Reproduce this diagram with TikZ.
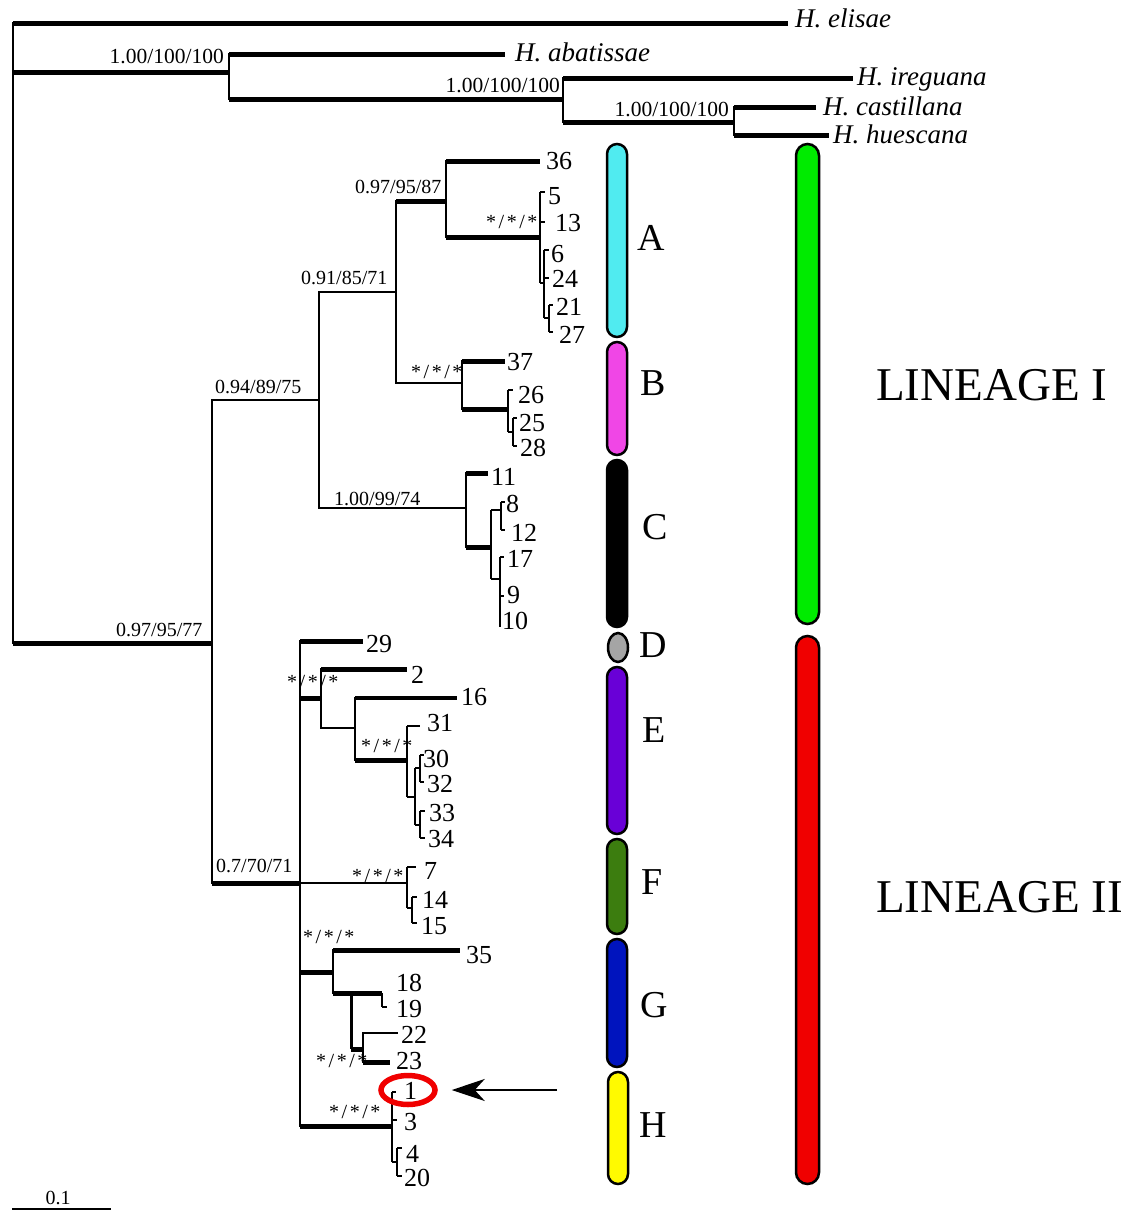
\documentclass[tikz,border=0pt]{standalone}
\usepackage{fontspec}
\setmainfont{Liberation Serif}
\usetikzlibrary{arrows.meta,shapes.geometric}
\newcommand\myfs[1]{\fontsize{#1}{#1}\selectfont}
\newcommand\sss{*\kern2.5pt/\kern2.5pt*\kern2.5pt/\kern2.5pt*}
\definecolor{cA}{RGB}{80,235,240}
\definecolor{cB}{RGB}{240,70,230}
\definecolor{cC}{RGB}{0,0,0}
\definecolor{cD}{RGB}{165,165,165}
\definecolor{cE}{RGB}{105,0,215}
\definecolor{cF}{RGB}{60,125,15}
\definecolor{cG}{RGB}{0,20,190}
\definecolor{cH}{RGB}{255,250,0}
\definecolor{cI}{RGB}{0,235,0}
\definecolor{cII}{RGB}{240,0,0}
\begin{document}
\begin{tikzpicture}[x=1pt,y=-1pt,
  vl/.style={line width=2.2pt, line cap=rect},
  tb/.style={line width=5pt},
  tn/.style={line width=2.2pt},
  tk/.style={line width=1.7pt},
  num/.style={font=\myfs{26}, anchor=west, inner sep=0pt},
  sup/.style={font=\myfs{20}, anchor=base west, inner sep=0pt},
  supb/.style={font=\myfs{21.5}, anchor=base east, inner sep=0pt},
  taxon/.style={font=\myfs{27}\itshape, anchor=base west, inner sep=0pt},
  clade/.style={draw=black, line width=2.5pt, rounded corners=10pt, minimum width=20pt, inner sep=0pt},
  lineagebar/.style={draw=black, line width=2.5pt, rounded corners=11.5pt, minimum width=23pt, inner sep=0pt},
  lett/.style={font=\myfs{38}, inner sep=0pt},
  lin/.style={font=\myfs{47}, anchor=west, inner sep=0pt}]
\useasboundingbox (0,0) rectangle (1134,1211);

% ---------- coordinates: outgroup ----------
\coordinate (r) at (13,643);
\coordinate (el) at (788,23);
\coordinate (n1) at (229,72);
\coordinate (ab) at (505,54);
\coordinate (n2) at (563,99);
\coordinate (ir) at (853,78);
\coordinate (n3) at (734,122);
\coordinate (ca) at (816,107);
\coordinate (hu) at (829,135);

% ---------- coordinates: lineage I ----------
\coordinate (nI0) at (212,643);
\coordinate (nL1) at (319,400);
\coordinate (nA1) at (396,292);
\coordinate (nA2) at (446,201);
\coordinate (t36) at (540,161);
\coordinate (nA3) at (540,237);
\coordinate (t5) at (545,192);
\coordinate (t13) at (545,222);
\coordinate (nA4) at (544,283);
\coordinate (t6) at (549,250);
\coordinate (t24) at (549,278);
\coordinate (nA5) at (549,318);
\coordinate (t21) at (553,305);
\coordinate (t27) at (553,332);
\coordinate (nB1) at (462,383);
\coordinate (t37) at (505,361);
\coordinate (nB2) at (508,409);
\coordinate (t26) at (513,390);
\coordinate (nB3) at (513,432);
\coordinate (t25) at (517,418);
\coordinate (t28) at (517,446);
\coordinate (nC1) at (466,508);
\coordinate (t11) at (488,473);
\coordinate (nC2) at (491,547);
\coordinate (nC3) at (501,510);
\coordinate (t8) at (505,502);
\coordinate (t12) at (505,530);
\coordinate (nC4) at (500,579);
\coordinate (t17) at (504,557);
\coordinate (t9) at (504,596);
\coordinate (t10) at (500,627);

% ---------- coordinates: lineage II ----------
\coordinate (nII) at (300,883);
\coordinate (t29) at (363,641);
\coordinate (nE1) at (321,698);
\coordinate (t2) at (407,669);
\coordinate (nE2) at (355,728);
\coordinate (t16) at (457,698);
\coordinate (nE3) at (407,760);
\coordinate (t31) at (420,726);
\coordinate (nE4) at (415,797);
\coordinate (nE5) at (420,768);
\coordinate (t30) at (424,755);
\coordinate (t32) at (424,782);
\coordinate (nE6) at (420,825);
\coordinate (t33) at (425,811);
\coordinate (t34) at (425,838);
\coordinate (nF1) at (407,883);
\coordinate (t7) at (416,867);
\coordinate (nF2) at (412,908);
\coordinate (t14) at (417,897);
\coordinate (t15) at (417,923);
\coordinate (nG1) at (333,972);
\coordinate (t35) at (460,950);
\coordinate (nG2) at (351,993);
\coordinate (nG3) at (382,993);
\coordinate (t19) at (387,1007);
\coordinate (nG4) at (363,1049);
\coordinate (t22) at (398,1033);
\coordinate (t23) at (390,1062);
\coordinate (nH1) at (392,1126);
\coordinate (t1) at (396,1092);
\coordinate (t3) at (397,1120);
\coordinate (nH2) at (397,1162);
\coordinate (t4) at (402,1148);
\coordinate (t20) at (402,1176);

% ---------- outgroup branches ----------
\draw[vl] (r |- el) -- (r);
\draw[tb] (r |- el) -- (el);
\draw[tb] (r |- n1) -- (n1);
\draw[vl] (n1 |- ab) -- (n1 |- n2);
\draw[tb] (n1 |- ab) -- (ab);
\draw[tb] (n1 |- n2) -- (n2);
\draw[vl] (n2 |- ir) -- (n2 |- n3);
\draw[tb] (n2 |- ir) -- (ir);
\draw[tb] (n2 |- n3) -- (n3);
\draw[vl] (n3 |- ca) -- (n3 |- hu);
\draw[tb] (n3 |- ca) -- (ca);
\draw[tb] (n3 |- hu) -- (hu);

% ---------- ingroup ----------
\draw[tb] (r) -- (nI0);
\draw[vl] (nI0 |- nL1) -- (nI0 |- nII);
\draw[tn] (nI0 |- nL1) -- (nL1);
\draw[tb] (nI0 |- nII) -- (nII);
\draw[vl] (nL1 |- nA1) -- (nL1 |- nC1);
\draw[tn] (nL1 |- nA1) -- (nA1);
\draw[tn] (nL1 |- nC1) -- (nC1);
\draw[vl] (nA1 |- nA2) -- (nA1 |- nB1);
\draw[tb] (nA1 |- nA2) -- (nA2);
\draw[tn] (nA1 |- nB1) -- (nB1);
\draw[vl] (nA2 |- t36) -- (nA2 |- nA3);
\draw[tb] (nA2 |- t36) -- (t36);
\draw[tb] (nA2 |- nA3) -- (nA3);
\draw[tk] (nA3 |- t5) -- (nA3 |- nA4);
\draw[tk] (nA3 |- t5) -- (t5);
\draw[tk] (nA3 |- t13) -- (t13);
\draw[tk] (nA3 |- nA4) -- (nA4);
\draw[tk] (nA4 |- t6) -- (nA4 |- nA5);
\draw[tk] (nA4 |- t6) -- (t6);
\draw[tk] (nA4 |- t24) -- (t24);
\draw[tk] (nA4 |- nA5) -- (nA5);
\draw[tk] (nA5 |- t21) -- (nA5 |- t27);
\draw[tk] (nA5 |- t21) -- (t21);
\draw[tk] (nA5 |- t27) -- (t27);

\draw[vl] (nB1 |- t37) -- (nB1 |- nB2);
\draw[tb] (nB1 |- t37) -- (t37);
\draw[tb] (nB1 |- nB2) -- (nB2);
\draw[tk] (nB2 |- t26) -- (nB2 |- nB3);
\draw[tk] (nB2 |- t26) -- (t26);
\draw[tk] (nB2 |- nB3) -- (nB3);
\draw[tk] (nB3 |- t25) -- (nB3 |- t28);
\draw[tk] (nB3 |- t25) -- (t25);
\draw[tk] (nB3 |- t28) -- (t28);

\draw[vl] (nC1 |- t11) -- (nC1 |- nC2);
\draw[tb] (nC1 |- t11) -- (t11);
\draw[tb] (nC1 |- nC2) -- (nC2);
\draw[tk] (nC2 |- nC3) -- (nC2 |- nC4);
\draw[tk] (nC2 |- nC3) -- (nC3);
\draw[tk] (nC2 |- nC4) -- (nC4);
\draw[tk] (nC3 |- t8) -- (nC3 |- t12);
\draw[tk] (nC3 |- t8) -- (t8);
\draw[tk] (nC3 |- t12) -- (t12);
\draw[tk] (nC4 |- t17) -- (t10);
\draw[tk] (nC4 |- t17) -- (t17);
\draw[tk] (nC4 |- t9) -- (t9);

\draw[vl] (nII |- t29) -- (nII |- nH1);
\draw[tb] (nII |- t29) -- (t29);
\draw[tb] (nII |- nE1) -- (nE1);
\draw[tn] (nII) -- (nF1);
\draw[tb] (nII |- nG1) -- (nG1);
\draw[tb] (nII |- nH1) -- (nH1);

\draw[vl] (nE1 |- t2) -- (nE1 |- nE2);
\draw[tb] (nE1 |- t2) -- (t2);
\draw[tn] (nE1 |- nE2) -- (nE2);
\draw[vl] (nE2 |- t16) -- (nE2 |- nE3);
\draw[line width=3.5pt] (nE2 |- t16) -- (t16);
\draw[tb] (nE2 |- nE3) -- (nE3);
\draw[tk] (nE3 |- t31) -- (nE3 |- nE4);
\draw[tn] (nE3 |- t31) -- (t31);
\draw[tk] (nE3 |- nE4) -- (nE4);
\draw[tk] (nE4 |- nE5) -- (nE4 |- nE6);
\draw[tk] (nE4 |- nE5) -- (nE5);
\draw[tk] (nE4 |- nE6) -- (nE6);
\draw[tk] (nE5 |- t30) -- (nE5 |- t32);
\draw[tk] (nE5 |- t30) -- (t30);
\draw[tk] (nE5 |- t32) -- (t32);
\draw[tk] (nE6 |- t33) -- (nE6 |- t34);
\draw[tk] (nE6 |- t33) -- (t33);
\draw[tk] (nE6 |- t34) -- (t34);

\draw[tk] (nF1 |- t7) -- (nF1 |- nF2);
\draw[tk] (nF1 |- t7) -- (t7);
\draw[tk] (nF1 |- nF2) -- (nF2);
\draw[tk] (nF2 |- t14) -- (nF2 |- t15);
\draw[tk] (nF2 |- t14) -- (t14);
\draw[tk] (nF2 |- t15) -- (t15);

\draw[vl] (nG1 |- t35) -- (nG1 |- nG2);
\draw[tb] (nG1 |- t35) -- (t35);
\draw[tb] (nG1 |- nG2) -- (nG2);
\draw[tb] (nG2) -- (nG3);
\draw[line width=3pt] (nG2) -- (nG2 |- nG4);
\draw[tb] (nG2 |- nG4) -- (nG4);
\draw[tk] (nG3) -- (nG3 |- t19);
\draw[tk] (nG3 |- t19) -- (t19);
\draw[vl] (nG4 |- t22) -- (nG4 |- t23);
\draw[tn] (nG4 |- t22) -- (t22);
\draw[tb] (nG4 |- t23) -- (t23);

\draw[tk] (nH1 |- t1) -- (nH1 |- nH2);
\draw[tk] (nH1 |- t1) -- (t1);
\draw[tk] (nH1 |- t3) -- (t3);
\draw[tk] (nH1 |- nH2) -- (nH2);
\draw[tk] (nH2 |- t4) -- (nH2 |- t20);
\draw[tk] (nH2 |- t4) -- (t4);
\draw[tk] (nH2 |- t20) -- (t20);

% ---------- taxon names ----------
\node[taxon] (Lel) at (795,27) {H. elisae};
\node[taxon] (Lab) at (515,61) {H. abatissae};
\node[taxon] (Lir) at (857,85) {H. ireguana};
\node[taxon] (Lca) at (823,115) {H. castillana};
\node[taxon] (Lhu) at (833,143) {H. huescana};

% ---------- support values ----------
\node[supb] (s1) at (224,63) {1.00/100/100};
\node[supb] (s2) at (560,92) {1.00/100/100};
\node[supb] (s3) at (729,116) {1.00/100/100};
\node[sup] (s4) at (116,636) {0.97/95/77};
\node[sup] (s5) at (215,393) {0.94/89/75};
\node[sup] (s6) at (301,284) {0.91/85/71};
\node[sup] (s7) at (355,193) {0.97/95/87};
\node[sup] (s8) at (486,228) {\sss};
\node[sup] (s9) at (411,378) {\sss};
\node[sup] (s10) at (334,505) {1.00/99/74};
\node[sup] (s11) at (216,872) {0.7/70/71};
\node[sup] (s12) at (287,688) {\sss};
\node[sup] (s13) at (361,752) {\sss};
\node[sup] (s14) at (352,882) {\sss};
\node[sup] (s15) at (303,943) {\sss};
\node[sup] (s16) at (316,1067) {\sss};
\node[sup] (s17) at (329,1118) {\sss};

% ---------- tip numbers ----------
\node[num] (l36) at (546,161) {36};
\node[num] (l5) at (548,196) {5};
\node[num] (l13) at (555,223) {13};
\node[num] (l6) at (551,254) {6};
\node[num] (l24) at (552,279) {24};
\node[num] (l21) at (556,307) {21};
\node[num] (l27) at (559,335) {27};
\node[num] (l37) at (507,362) {37};
\node[num] (l26) at (518,395) {26};
\node[num] (l25) at (519,423) {25};
\node[num] (l28) at (520,448) {28};
\node[num] (l11) at (491,477) {11};
\node[num] (l8) at (506,504) {8};
\node[num] (l12) at (511,533) {12};
\node[num] (l17) at (507,559) {17};
\node[num] (l9) at (507,595) {9};
\node[num] (l10) at (502,621) {10};
\node[num] (l29) at (366,644) {29};
\node[num] (l2) at (411,675) {2};
\node[num] (l16) at (461,697) {16};
\node[num] (l31) at (427,723) {31};
\node[num] (l30) at (423,759) {30};
\node[num] (l32) at (427,784) {32};
\node[num] (l33) at (429,813) {33};
\node[num] (l34) at (428,839) {34};
\node[num] (l7) at (424,871) {7};
\node[num] (l14) at (422,900) {14};
\node[num] (l15) at (421,926) {15};
\node[num] (l35) at (466,955) {35};
\node[num] (l18) at (396,983) {18};
\node[num] (l19) at (396,1009) {19};
\node[num] (l22) at (401,1035) {22};
\node[num] (l23) at (396,1061) {23};
\node[num] (l1) at (404,1091) {1};
\node[num] (l3) at (404,1122) {3};
\node[num] (l4) at (406,1154) {4};
\node[num] (l20) at (404,1178) {20};

% ---------- highlight and arrow ----------
\node[draw=cII, line width=5.5pt, ellipse, minimum width=54pt, minimum height=29pt, inner sep=0pt] (hl) at (408,1090) {};
\coordinate (arrS) at (557,1090);
\draw[line width=2.5pt, -{Stealth[length=33pt, width=22pt, inset=10pt]}] (arrS) -- ([xshift=14pt]hl.east);

% ---------- clade bars ----------
\node[clade, fill=cA, minimum height=193pt] (bA) at (617,240.5) {};
\node[clade, fill=cB, minimum height=113pt] (bB) at (617,398.5) {};
\node[clade, fill=cC, minimum height=167pt] (bC) at (617,543.5) {};
\node[draw=black, line width=2.5pt, fill=cD, ellipse, minimum width=20pt, minimum height=29pt, inner sep=0pt] (bD) at (618,647.5) {};
\node[clade, fill=cE, minimum height=167pt] (bE) at (617,750.5) {};
\node[clade, fill=cF, minimum height=95pt] (bF) at (617,886.5) {};
\node[clade, fill=cG, minimum height=128pt] (bG) at (617,1003) {};
\node[clade, fill=cH, minimum height=112pt] (bH) at (618,1128) {};
\node[lineagebar, fill=cI, minimum height=480pt] (bI) at (807.5,384) {};
\node[lineagebar, fill=cII, minimum height=548pt] (bII) at (807.5,910) {};

\node[lett] (LA) at (651,238) {A};
\node[lett] (LB) at (653,383) {B};
\node[lett] (LC) at (655,527) {C};
\node[lett] (LD) at (653,645) {D};
\node[lett] (LE) at (654,730) {E};
\node[lett] (LF) at (652,882) {F};
\node[lett] (LG) at (654,1005) {G};
\node[lett] (LH) at (653,1125) {H};

\node[lin] (LI) at (876,385) {LINEAGE I};
\node[lin] (LII) at (876,897) {LINEAGE II};

% ---------- scale bar ----------
\coordinate (sbL) at (12,1209);
\coordinate (sbR) at (111,1209);
\draw[line width=1.5pt] (sbL) -- (sbR);
\node[font=\myfs{20}, anchor=base, inner sep=0pt] (sbT) at (58,1204) {0.1};
\end{tikzpicture}
\end{document}
